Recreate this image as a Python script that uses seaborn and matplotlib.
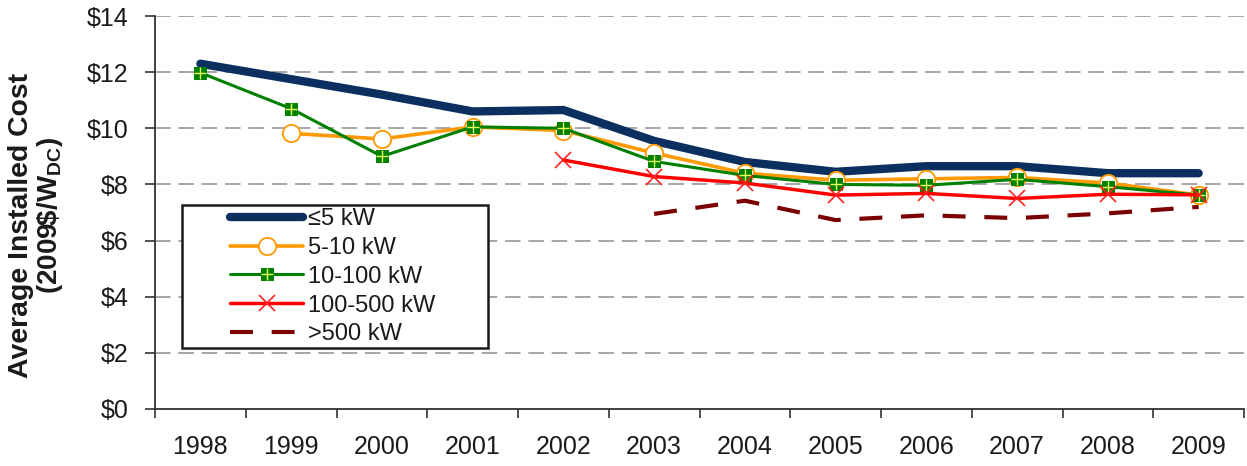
import numpy as np
import pandas as pd
import matplotlib
matplotlib.use("Agg")
import matplotlib.pyplot as plt
from matplotlib.patches import Rectangle
from matplotlib.ticker import FixedLocator, FixedFormatter, NullFormatter
import seaborn as sns

# ---- data ----
years = ["1998", "1999", "2000", "2001", "2002", "2003", "2004", "2005", "2006", "2007", "2008", "2009"]
le5 = [12.3, 11.75, 11.2, 10.6, 10.65, 9.55, 8.8, 8.45, 8.65, 8.65, 8.4, 8.4]
kw5_10 = [np.nan, 9.82, 9.62, 10.05, 9.92, 9.12, 8.4, 8.15, 8.2, 8.25, 8.05, 7.62]
kw10_100 = [11.98, 10.7, 9.0, 10.05, 10.0, 8.82, 8.32, 8.0, 7.97, 8.18, 7.92, 7.62]
kw100_500 = [np.nan, np.nan, np.nan, np.nan, 8.87, 8.28, 8.05, 7.62, 7.68, 7.5, 7.65, 7.63]
gt500 = [np.nan, np.nan, np.nan, np.nan, np.nan, 6.95, 7.42, 6.73, 6.9, 6.8, 6.97, 7.2]
series_labels = ["\u22645 kW", "5-10 kW", "10-100 kW", "100-500 kW", ">500 kW"]
ytick_vals = [0, 2, 4, 6, 8, 10, 12, 14]
ytick_labels = ["$0", "$2", "$4", "$6", "$8", "$10", "$12", "$14"]
ylabel_line1 = "Average Installed Cost"
ylabel_line2 = "(2009\\$/W$_{\\mathbf{DC}}$)"

sns.set_theme(style="white")
plt.rcParams["font.family"] = ["Liberation Sans", "DejaVu Sans"]
plt.rcParams["mathtext.fontset"] = "custom"
plt.rcParams["mathtext.rm"] = "Liberation Sans"
plt.rcParams["mathtext.bf"] = "Liberation Sans:bold"

idx = np.arange(len(years))
df = pd.DataFrame({"x": idx, "le5": le5, "k5": kw5_10, "k10": kw10_100,
                   "k100": kw100_500, "k500": gt500})

fig = plt.figure(figsize=(12.47, 4.66), dpi=100)
ax = fig.add_axes([155 / 1247, 1 - 409 / 466, 1089 / 1247, 393 / 466])

# grid
for v in ytick_vals[1:]:
    ax.axhline(v, color="#a6a6a6", lw=1.4, ls=(0, (8, 4)), zorder=0)

navy = "#0b2f5f"
l1 = sns.lineplot(data=df, x="x", y="le5", ax=ax, color=navy, lw=6.0,
                  solid_capstyle="round", zorder=3).get_lines()[-1]
l2 = sns.lineplot(data=df, x="x", y="k5", ax=ax, color="#ff9900", lw=2.6,
                  marker="o", markersize=12.5, markerfacecolor="white",
                  markeredgecolor="#ff9900", markeredgewidth=1.3, zorder=4).get_lines()[-1]
l3 = sns.lineplot(data=df, x="x", y="k10", ax=ax, color="#008000", lw=2.2,
                  marker="s", markersize=8, markerfacecolor="#008000",
                  markeredgecolor="#008000", zorder=5).get_lines()[-1]
l3p = sns.lineplot(data=df, x="x", y="k10", ax=ax, color="#e8ff60", lw=0,
                   linestyle="none", marker="+", markersize=8, markeredgewidth=1.0,
                   markeredgecolor="#e8ff60", zorder=6).get_lines()[-1]
l4 = sns.lineplot(data=df, x="x", y="k100", ax=ax, color="#ff0000", lw=2.5,
                  marker="x", markersize=11, markeredgewidth=1.2,
                  markeredgecolor="#ff2020", zorder=7).get_lines()[-1]
l5 = sns.lineplot(data=df, x="x", y="k500", ax=ax, color="#7b0000", lw=3.0,
                  linestyle=(0, (5.5, 4.5)), zorder=3).get_lines()[-1]

ax.set_xlim(-0.5, len(years) - 0.5)
ax.set_ylim(0, 14)

# axes styling
for s in ["top", "right"]:
    ax.spines[s].set_visible(False)
for s in ["left", "bottom"]:
    ax.spines[s].set_color("#333333")
    ax.spines[s].set_linewidth(1.3)

ax.yaxis.set_major_locator(FixedLocator(ytick_vals))
ax.yaxis.set_major_formatter(FixedFormatter(ytick_labels))
ax.tick_params(axis="y", which="major", direction="out", length=7, width=1.2,
               color="#333333", pad=12, labelsize=18, labelcolor="#1a1a1a", left=True)

ax.xaxis.set_major_locator(FixedLocator(idx))
ax.xaxis.set_major_formatter(FixedFormatter(years))
ax.xaxis.set_minor_locator(FixedLocator(np.arange(-0.5, len(years), 1.0)))
ax.xaxis.set_minor_formatter(NullFormatter())
ax.tick_params(axis="x", which="major", length=0, pad=19, labelsize=18, labelcolor="#1a1a1a")
ax.tick_params(axis="x", which="minor", direction="out", length=6.5, width=1.2,
               color="#333333", bottom=True)

ax.set_xlabel("")
ax.set_ylabel("")
fig.text(21 / 1247, 1 - 225.5 / 466, ylabel_line1, rotation=90, ha="center", va="center",
         fontsize=20.4, fontweight="bold", color="#1a1a1a")
fig.text(50 / 1247, 1 - 215 / 466, ylabel_line2, rotation=90, ha="center", va="center",
         fontsize=20.0, fontweight="bold", color="#1a1a1a")

# legend
ax.add_patch(Rectangle((27 / 1089, (409 - 348) / 393), 306 / 1089, 143 / 393,
                       transform=ax.transAxes, fill=True, facecolor="white",
                       edgecolor="#1a1a1a", lw=1.8, zorder=8))
leg = ax.legend([l1, l2, (l3, l3p), l4, l5], series_labels,
                loc="upper left", bbox_to_anchor=(75 / 1089, (409 - 208) / 393),
                frameon=False, fontsize=17, handlelength=3.1, handletextpad=0.2,
                labelspacing=0.29, borderpad=0, borderaxespad=0)
leg.set_zorder(9)
for t in leg.get_texts():
    t.set_color("#1a1a1a")

fig.savefig("out.png", dpi=100)
